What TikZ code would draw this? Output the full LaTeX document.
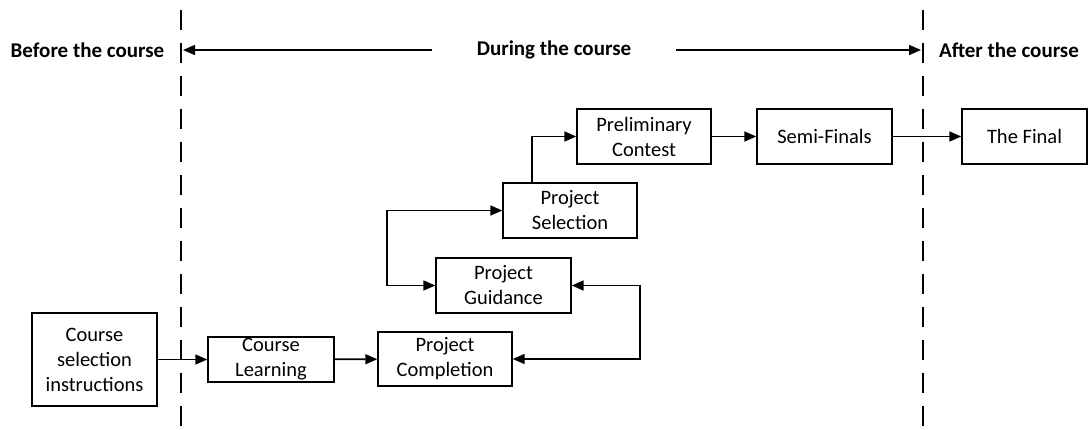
\documentclass[tikz,border=0pt]{standalone}
\usepackage{fontspec}
\setmainfont{Carlito}
\usetikzlibrary{arrows.meta}
\begin{document}
\begin{tikzpicture}[x=1pt,y=-1pt,
  box/.style={draw,line width=1.4pt,inner sep=0pt,align=center,font=\fontsize{20.5}{25}\selectfont},
  conn/.style={line width=1.7pt,-{Triangle[length=12pt,width=10pt]}},
  biconn/.style={line width=1.7pt,{Triangle[length=12pt,width=10pt]}-{Triangle[length=12pt,width=10pt]}},
  phase/.style={font=\fontsize{21}{24}\selectfont\bfseries,inner sep=0pt},
  divider/.style={line width=2.2pt,dash pattern=on 20pt off 13pt}]
\useasboundingbox (0,0) rectangle (1089,430);
% dividers
\coordinate (d1t) at (181,10);
\coordinate (d1b) at (181,430);
\coordinate (d2t) at (923,10);
\coordinate (d2b) at (923,430);
\draw[divider] (d1t) -- (d1b);
\draw[divider] (d2t) -- (d2b);
% phase labels
\node[phase] (before) at (87.5,50) {Before the course};
\node[phase] (after) at (1009,50) {After the course};
\node[phase,minimum width=244pt] (during) at (554,50) {During the course};
\coordinate (lt) at (183,50);
\coordinate (rt) at (921,50);
\draw[conn] (during.west) -- (lt);
\draw[conn] (during.east) -- (rt);
% boxes
\node[box,minimum width=125pt,minimum height=93pt] (csi) at (94.5,359.5) {Course\\selection\\instructions};
\node[box,minimum width=126pt,minimum height=45pt] (cl) at (271,359.5) {Course\\Learning};
\node[box,minimum width=134pt,minimum height=54pt] (pc) at (445,359) {Project\\Completion};
\node[box,minimum width=135pt,minimum height=55pt] (pg) at (503.5,285.5) {Project\\Guidance};
\node[box,minimum width=134pt,minimum height=55pt] (ps) at (570,210.5) {Project\\Selection};
\node[box,minimum width=134pt,minimum height=55pt] (pre) at (644,136.5) {Preliminary\\Contest};
\node[box,minimum width=135pt,minimum height=55pt] (semi) at (824.5,136.5) {Semi-Finals};
\node[box,minimum width=125pt,minimum height=55pt] (final) at (1024.5,136.5) {The Final};
% connectors
\draw[conn] (csi) -- (cl);
\draw[conn] (cl) -- (pc);
\draw[biconn] (ps.west) -- ++(-115,0) |- (pg.west);
\draw[biconn] (pg.east) -- ++(68,0) |- (pc.east);
\draw[conn] (ps.north -| 532,0) |- (pre.west);
\draw[conn] (pre) -- (semi);
\draw[conn] (semi) -- (final);
\end{tikzpicture}
\end{document}
